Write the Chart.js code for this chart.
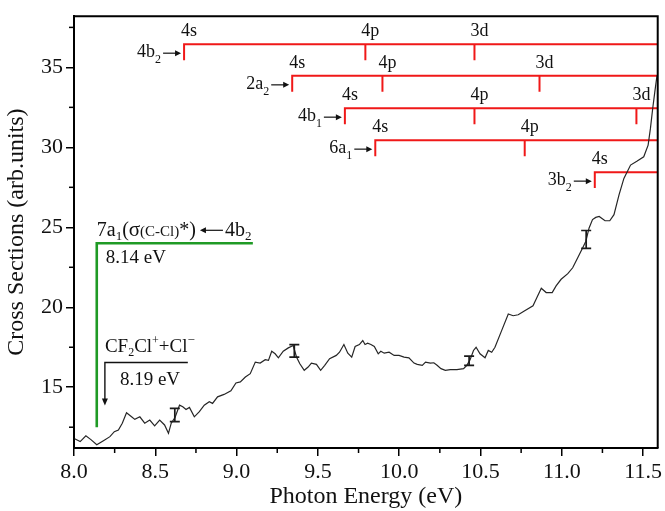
<!DOCTYPE html>
<html><head><meta charset="utf-8">
<script src="https://cdn.jsdelivr.net/npm/chart.js@4"></script>
<style>html,body{margin:0;padding:0;background:#fff}#wrap{width:665px;height:511px}</style>
</head><body><div id="wrap"><canvas id="c" width="665" height="511"></canvas></div>
<script>
// ---- data ----
const energy = [8.004,8.038,8.073,8.106,8.140,8.181,8.221,8.248,8.273,8.297,8.323,8.354,8.374,8.405,8.435,8.466,8.496,8.527,8.557,8.581,8.598,8.622,8.649,8.669,8.689,8.710,8.740,8.771,8.801,8.832,8.852,8.883,8.923,8.965,
  8.996,9.023,9.054,9.084,9.115,9.145,9.176,9.196,9.216,9.237,9.257,9.287,9.318,9.348,9.369,9.389,9.416,9.440,9.460,9.491,9.517,9.542,9.572,9.613,9.633,9.660,9.684,9.708,9.729,9.755,9.776,9.790,9.806,9.826,9.847,9.871,9.887,9.908,9.938,9.969,9.999,10.030,10.060,10.091,10.111,
  10.142,10.162,10.192,10.213,10.233,10.257,10.284,10.314,10.355,10.396,10.416,10.436,10.457,10.473,10.497,10.528,10.548,10.569,10.589,10.630,10.671,10.701,10.732,10.772,10.823,10.847,10.874,10.904,10.941,10.965,10.996,11.037,11.067,11.098,11.128,11.148,11.168,11.189,11.209,
  11.230,11.266,11.295,11.321,11.352,11.382,11.423,11.464,11.504,11.531,11.545,11.559,11.572,11.580,11.586];
const crossSection = [11.78,11.60,11.96,11.71,11.40,11.66,11.91,12.22,12.33,12.75,13.40,13.15,12.99,13.15,12.75,12.95,12.58,12.95,12.64,12.12,12.75,13.12,13.88,13.78,13.61,13.74,13.15,13.47,13.88,14.09,13.99,14.40,14.55,14.78,
  15.27,15.33,15.64,15.85,16.57,16.51,16.72,16.68,17.25,17.09,16.84,17.25,17.46,17.61,16.88,16.47,16.06,16.26,16.51,16.43,16.06,16.37,16.78,16.99,17.19,17.67,17.13,16.88,17.55,17.67,17.92,17.67,17.75,17.67,17.55,17.09,17.25,17.13,17.19,16.99,16.99,16.88,16.84,16.51,16.43,
  16.37,16.57,16.51,16.53,16.37,16.16,16.06,16.10,16.10,16.16,16.37,16.72,17.30,17.50,17.09,16.84,17.30,17.19,17.50,18.54,19.58,19.47,19.53,19.78,20.09,20.61,21.19,20.92,20.92,21.34,21.75,22.10,22.47,23.09,23.71,24.13,24.96,25.48,25.62,
  25.68,25.41,25.41,25.79,27.03,28.06,28.89,29.14,29.41,30.14,31.17,32.41,33.45,34.07,34.5];

const errEnergy = [8.62, 9.355, 10.43, 11.15];
const errLow    = [12.85, 16.88, 16.37, 23.68];
const errHigh   = [13.68, 17.67, 16.94, 24.80];

const xMinorTicks = [8.25, 8.75, 9.25, 9.75, 10.25, 10.75, 11.25];
const yMinorTicks = [12.5, 17.5, 22.5, 27.5, 32.5, 37.5];

// Rydberg ladders (red)
const ladderNames = ['4b', '2a', '4b', '6a', '3b'];
const ladderSubs  = ['2', '2', '1', '1', '2'];
const ladderY     = [36.45, 34.47, 32.45, 30.45, 28.45];
const ladderLevelNames = [['4s','4p','3d'], ['4s','4p','3d'], ['4s','4p','3d'], ['4s','4p'], ['4s']];
const ladderLevelX     = [[8.677, 9.792, 10.463], [9.342, 9.897, 10.863], [9.666, 10.463, 11.459], [9.853, 10.772], [11.203]];
const ladderDepth = 1.0;

// green and black thresholds
const greenLine = [{x: 9.10, y: 24.0}, {x: 8.14, y: 24.0}, {x: 8.14, y: 12.5}];
const blackLine = [{x: 8.70, y: 16.55}, {x: 8.19, y: 16.55}, {x: 8.19, y: 14.15}];
const blackArrowTip = {x: 8.19, y: 13.85};

const X_MIN = 8.0, X_MAX = 11.59, Y_MIN = 11.2, Y_MAX = 38.2;

// ---- build datasets ----
const FONT = '"Liberation Serif", "Times New Roman", serif';
const RED = '#f01818';
const datasets = [];
datasets.push({
  label: 'curve',
  data: energy.map((e, i) => ({x: e, y: crossSection[i]})),
  borderColor: '#262626', borderWidth: 1.2, pointRadius: 0, tension: 0, fill: false
});
ladderY.forEach((yy, i) => {
  const xs = ladderLevelX[i];
  const pts = [{x: xs[0], y: yy - ladderDepth}, {x: xs[0], y: yy}, {x: X_MAX + 0.02, y: yy}];
  for (let k = 1; k < xs.length; k++) {
    pts.push({x: xs[k], y: null}, {x: xs[k], y: yy}, {x: xs[k], y: yy - ladderDepth});
  }
  datasets.push({label: 'ladder' + i, data: pts, borderColor: RED, borderWidth: 2, pointRadius: 0, tension: 0, spanGaps: false, fill: false});
});
datasets.push({label: 'green', data: greenLine, borderColor: '#1f9a25', borderWidth: 2.6, pointRadius: 0, tension: 0, fill: false});
datasets.push({label: 'black', data: blackLine, borderColor: '#111', borderWidth: 1.4, pointRadius: 0, tension: 0, fill: false});

// ---- helpers ----
function richWidth(ctx, parts) {
  let w = 0;
  for (const p of parts) { ctx.font = p[1] + 'px ' + FONT; w += ctx.measureText(p[0]).width; }
  return w;
}
function drawRich(ctx, x, yBase, parts) {
  let cx = x;
  for (const p of parts) {
    ctx.font = p[1] + 'px ' + FONT;
    ctx.fillText(p[0], cx, yBase + (p[2] || 0));
    cx += ctx.measureText(p[0]).width;
  }
  return cx;
}
function arrow(ctx, x1, y1, x2, y2, head, hw, lw) {
  const a = Math.atan2(y2 - y1, x2 - x1);
  ctx.lineWidth = lw;
  ctx.beginPath();
  ctx.moveTo(x1, y1);
  ctx.lineTo(x2 - Math.cos(a) * head * 0.8, y2 - Math.sin(a) * head * 0.8);
  ctx.stroke();
  ctx.beginPath();
  ctx.moveTo(x2, y2);
  ctx.lineTo(x2 - Math.cos(a) * head + Math.sin(a) * hw, y2 - Math.sin(a) * head - Math.cos(a) * hw);
  ctx.lineTo(x2 - Math.cos(a) * head - Math.sin(a) * hw, y2 - Math.sin(a) * head + Math.cos(a) * hw);
  ctx.closePath();
  ctx.fill();
}

const decor = {
  id: 'decor',
  afterDatasetsDraw(chart) {
    const ctx = chart.ctx, xs = chart.scales.x, ys = chart.scales.y, ca = chart.chartArea;
    const px = v => xs.getPixelForValue(v), py = v => ys.getPixelForValue(v);
    ctx.save();
    // frame top/right
    ctx.strokeStyle = '#000'; ctx.lineWidth = 2;
    ctx.beginPath(); ctx.moveTo(ca.left, ca.top); ctx.lineTo(ca.right, ca.top); ctx.lineTo(ca.right, ca.bottom); ctx.stroke();
    // minor ticks
    ctx.lineWidth = 1.5;
    xMinorTicks.forEach(v => { const x = px(v); ctx.beginPath(); ctx.moveTo(x, ca.bottom); ctx.lineTo(x, ca.bottom + 5); ctx.stroke(); });
    yMinorTicks.forEach(v => { const y = py(v); ctx.beginPath(); ctx.moveTo(ca.left, y); ctx.lineTo(ca.left - 5, y); ctx.stroke(); });
    // error bars
    ctx.strokeStyle = '#1a1a1a'; ctx.lineWidth = 1.7;
    errEnergy.forEach((e, i) => {
      const x = px(e), y1 = py(errLow[i]), y2 = py(errHigh[i]);
      ctx.beginPath();
      ctx.moveTo(x, y1); ctx.lineTo(x, y2);
      ctx.moveTo(x - 5, y1); ctx.lineTo(x + 5, y1);
      ctx.moveTo(x - 5, y2); ctx.lineTo(x + 5, y2);
      ctx.stroke();
    });
    // ladder labels
    ctx.fillStyle = '#111'; ctx.strokeStyle = '#111';
    ctx.textBaseline = 'alphabetic';
    ladderY.forEach((yy, i) => {
      const yl = py(yy);
      ctx.font = '18px ' + FONT; ctx.textAlign = 'center';
      ladderLevelX[i].forEach((lx, k) => ctx.fillText(ladderLevelNames[i][k], px(lx) + 5, yl - 8));
      ctx.textAlign = 'left';
      const x0 = px(ladderLevelX[i][0]);
      const parts = [[ladderNames[i], 18], [ladderSubs[i], 12, 6]];
      const w = richWidth(ctx, parts);
      drawRich(ctx, x0 - 23 - w, yl + 13, parts);
      arrow(ctx, x0 - 21, yl + 9, x0 - 3, yl + 9, 6, 3, 1.2);
    });
    // green annotation text
    const gx = px(greenLine[1].x), gy = py(greenLine[1].y);
    let cx = drawRich(ctx, gx, gy - 7, [['7a', 20], ['1', 13, 4], ['(', 20], ['σ', 21], ['(C-Cl)', 15], ['*)', 20]]);
    arrow(ctx, cx + 27, gy - 13, cx + 4, gy - 13, 6, 3, 1.2);
    drawRich(ctx, cx + 29, gy - 7, [['4b', 20], ['2', 13, 4]]);
    drawRich(ctx, gx + 9, gy + 20, [['8.14 eV', 19]]);
    // black annotation
    const bx = px(blackLine[1].x), by = py(blackLine[1].y);
    drawRich(ctx, bx, by - 10, [['CF', 19], ['2', 12, 4], ['Cl', 19], ['+', 12, -8], ['+Cl', 19], ['\u2212', 13, -8]]);
    drawRich(ctx, bx + 15, by + 23, [['8.19 eV', 19]]);
    arrow(ctx, bx, py(blackLine[2].y), bx, py(blackArrowTip.y), 7, 3, 1.4);
    ctx.restore();
  }
};

new Chart(document.getElementById('c'), {
  type: 'line',
  data: {datasets},
  options: {
    responsive: false, animation: false, devicePixelRatio: 1,
    layout: {padding: {left: 0, right: 3, top: 13, bottom: 0}},
    plugins: {legend: {display: false}, tooltip: {enabled: false}},
    scales: {
      x: {
        type: 'linear', min: X_MIN, max: X_MAX,
        afterFit: s => { s.height = 63; },
        ticks: {stepSize: 0.5, includeBounds: false, autoSkip: false, maxRotation: 0, padding: 3, color: '#111',
          font: {family: FONT, size: 22}, callback: v => v.toFixed(1)},
        grid: {display: true, drawOnChartArea: false, drawTicks: true, tickLength: 8, color: '#000', lineWidth: 1.5},
        border: {display: true, color: '#000', width: 2},
        title: {display: true, text: 'Photon Energy (eV)', color: '#111', font: {family: FONT, size: 24}, padding: {top: 0, bottom: 0}}
      },
      y: {
        type: 'linear', min: Y_MIN, max: Y_MAX,
        afterFit: s => { s.width = 74; },
        ticks: {stepSize: 5, includeBounds: false, padding: 3, color: '#111',
          font: {family: FONT, size: 22}, callback: v => String(v)},
        grid: {display: true, drawOnChartArea: false, drawTicks: true, tickLength: 8, color: '#000', lineWidth: 1.5},
        border: {display: true, color: '#000', width: 2},
        title: {display: true, text: 'Cross Sections (arb.units)', color: '#111', font: {family: FONT, size: 24}, padding: {top: 2, bottom: 0}}
      }
    }
  },
  plugins: [decor]
});
</script></body></html>
